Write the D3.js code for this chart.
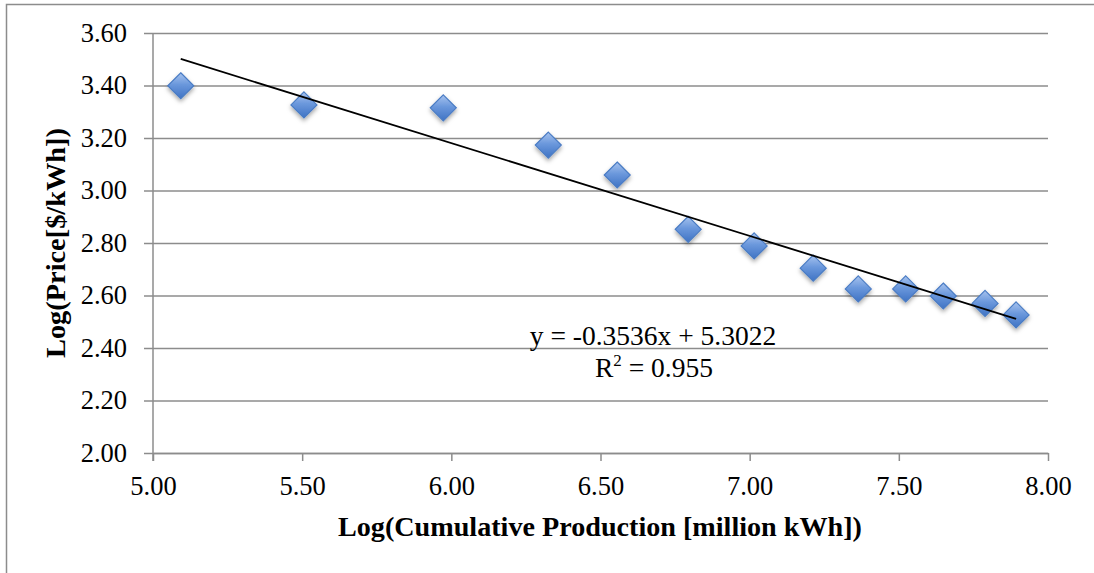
<!DOCTYPE html>
<html>
<head>
<meta charset="utf-8">
<script src="https://cdn.jsdelivr.net/npm/d3@7"></script>
<style>
  html, body { margin: 0; padding: 0; background: #fff; }
  svg { display: block; }
  text { font-family: "Liberation Serif", "Times New Roman", serif; fill: #000; }
</style>
</head>
<body>
<svg id="chart" width="1094" height="573"></svg>
<script>
// log of cumulative production vs log of price
const logProduction = [5.093, 5.506, 5.973, 6.325, 6.556, 6.794, 7.015, 7.213, 7.364, 7.523, 7.649, 7.789, 7.893];
const logPrice = [3.399, 3.326, 3.315, 3.173, 3.059, 2.852, 2.789, 2.704, 2.625, 2.625, 2.598, 2.570, 2.526];

const xTicks = [5.0, 5.5, 6.0, 6.5, 7.0, 7.5, 8.0];
const yTicks = [2.0, 2.2, 2.4, 2.6, 2.8, 3.0, 3.2, 3.4, 3.6];

// linear trendline shown on the chart
const slope = -0.3536;
const intercept = 5.3022;
const rSquared = "0.955";

const svg = d3.select("#chart");
const plotLeft = 153, plotRight = 1048, plotTop = 33, plotBottom = 453;

const x = d3.scaleLinear().domain([5, 8]).range([plotLeft, plotRight]);
const y = d3.scaleLinear().domain([2, 3.6]).range([plotBottom, plotTop]);

const gridColor = "#8c8c8c";

// outer chart border
svg.append("rect")
  .attr("x", 6.5).attr("y", 4.5)
  .attr("width", 1110).attr("height", 600)
  .attr("fill", "none").attr("stroke", gridColor).attr("stroke-width", 1.5);

const defs = svg.append("defs");
const grad = defs.append("linearGradient")
  .attr("id", "diamondFill").attr("x1", 0).attr("y1", 0).attr("x2", 0).attr("y2", 1);
grad.append("stop").attr("offset", "0%").attr("stop-color", "#a7c3ee");
grad.append("stop").attr("offset", "45%").attr("stop-color", "#6b98dc");
grad.append("stop").attr("offset", "100%").attr("stop-color", "#3f73c4");

const shadow = defs.append("filter").attr("id", "shadow")
  .attr("x", "-50%").attr("y", "-50%").attr("width", "200%").attr("height", "200%");
shadow.append("feDropShadow")
  .attr("dx", 0).attr("dy", 2.5).attr("stdDeviation", 2)
  .attr("flood-color", "#000").attr("flood-opacity", 0.35);

// y axis with gridlines
const yAxis = d3.axisLeft(y)
  .tickValues(yTicks)
  .tickSize(-(plotRight - plotLeft))
  .tickPadding(17)
  .tickFormat(d3.format(".2f"));

const gy = svg.append("g")
  .attr("transform", `translate(${plotLeft},0)`)
  .call(yAxis);
gy.select(".domain").remove();
gy.selectAll(".tick line").attr("stroke", gridColor).attr("stroke-width", 1.5)
  .attr("x1", -9);
gy.selectAll(".tick text")
  .attr("x", -26)
  .style("font-size", "26.5px")
  .style("font-family", "Liberation Serif");

// x axis
const xAxis = d3.axisBottom(x)
  .tickValues(xTicks)
  .tickSize(8)
  .tickSizeOuter(0)
  .tickPadding(15)
  .tickFormat(d3.format(".2f"));

const gx = svg.append("g")
  .attr("transform", `translate(0,${plotBottom})`)
  .call(xAxis);
gx.select(".domain").attr("stroke", gridColor).attr("stroke-width", 1.5);
gx.selectAll(".tick line").attr("stroke", gridColor).attr("stroke-width", 1.5);
gx.selectAll(".tick text")
  .attr("dy", "0.71em")
  .style("font-size", "26.5px")
  .style("font-family", "Liberation Serif");

// vertical axis line
svg.append("line")
  .attr("x1", plotLeft).attr("x2", plotLeft)
  .attr("y1", plotTop).attr("y2", plotBottom + 8)
  .attr("stroke", gridColor).attr("stroke-width", 1.5);

// axis titles
svg.append("text")
  .attr("x", 600)
  .attr("y", 536)
  .attr("text-anchor", "middle")
  .attr("textLength", 524)
  .attr("lengthAdjust", "spacingAndGlyphs")
  .style("font-size", "27px")
  .style("font-weight", "bold")
  .text("Log(Cumulative Production [million kWh])");

svg.append("text")
  .attr("transform", "translate(65,243) rotate(-90)")
  .attr("text-anchor", "middle")
  .attr("textLength", 230)
  .attr("lengthAdjust", "spacingAndGlyphs")
  .style("font-size", "27px")
  .style("font-weight", "bold")
  .text("Log(Price[$/kWh])");

// data points
const points = logProduction.map((v, i) => ({ x: v, y: logPrice[i] }));
const r = 13;
svg.append("g")
  .selectAll("path")
  .data(points)
  .join("path")
  .attr("d", `M0,${-r}L${r},0L0,${r}L${-r},0Z`)
  .attr("transform", d => `translate(${x(d.x)},${y(d.y)})`)
  .attr("fill", "url(#diamondFill)")
  .attr("stroke", "#4a7cc4")
  .attr("stroke-width", 1.2)
  .attr("filter", "url(#shadow)");

// trendline
const x0 = d3.min(logProduction), x1 = d3.max(logProduction);
svg.append("line")
  .attr("x1", x(x0)).attr("y1", y(slope * x0 + intercept))
  .attr("x2", x(x1)).attr("y2", y(slope * x1 + intercept))
  .attr("stroke", "#000").attr("stroke-width", 1.8);

// trendline equation
svg.append("text")
  .attr("x", 653)
  .attr("y", 345)
  .attr("text-anchor", "middle")
  .style("font-size", "27.5px")
  .text(`y = ${slope}x + ${intercept}`);

const r2 = svg.append("text")
  .attr("x", 654)
  .attr("y", 377)
  .attr("text-anchor", "middle")
  .style("font-size", "27.5px");
r2.append("tspan").text("R");
r2.append("tspan").attr("dy", -11).style("font-size", "17px").text("2");
r2.append("tspan").attr("dy", 11).text(` = ${rSquared}`);
</script>
</body>
</html>
